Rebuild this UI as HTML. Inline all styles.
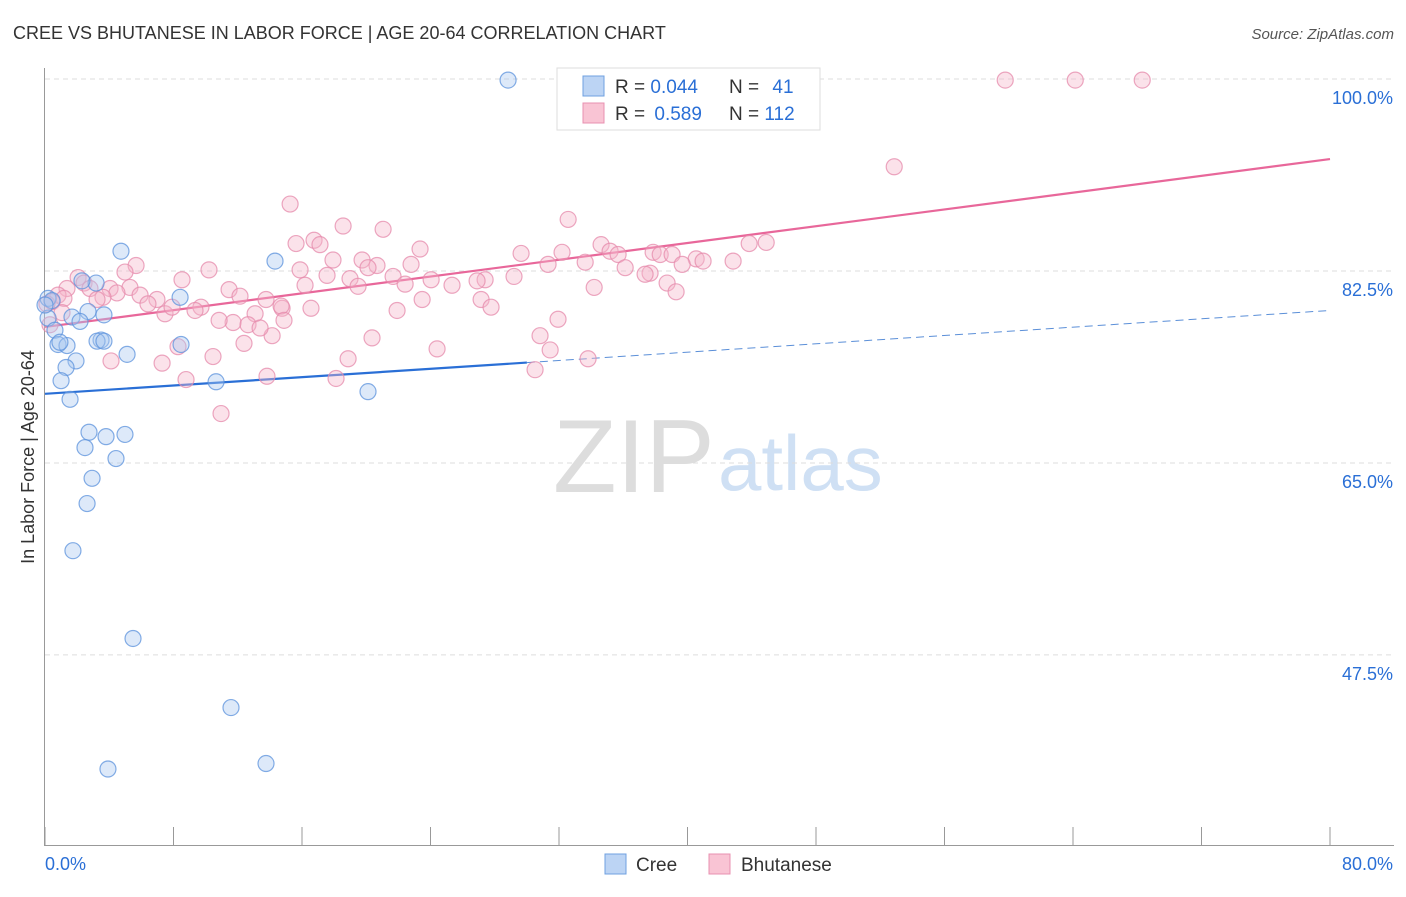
<!DOCTYPE html>
<html><head><meta charset="utf-8"><style>
body{margin:0;background:#fff;font-family:"Liberation Sans",sans-serif}
svg text{font-family:"Liberation Sans",sans-serif}
</style></head><body>
<svg id="chart" width="1406" height="892" viewBox="0 0 1406 892" xmlns="http://www.w3.org/2000/svg">
<text x="13" y="39" font-size="18" fill="#333">CREE VS BHUTANESE IN LABOR FORCE | AGE 20-64 CORRELATION CHART</text>
<text x="1394" y="39" font-size="15" fill="#555" text-anchor="end" font-style="italic">Source: ZipAtlas.com</text>
<g>
<text x="553" y="492" font-size="104" fill="#ddd" font-family="Liberation Serif,serif">ZIP</text>
<text x="718" y="490" font-size="78" fill="#cfe0f4">atlas</text>
</g>
<g id="grid"></g>
<g id="axes"></g>
<g id="trend"></g>
<g id="pts"></g>
<text transform="translate(34,457) rotate(-90)" font-size="18" fill="#333" text-anchor="middle">In Labor Force | Age 20-64</text>
<g>
<rect x="557" y="68" width="263" height="62" fill="#fff" stroke="#ddd"/>
<rect x="583" y="76" width="21" height="20" fill="#bcd4f4" stroke="#6fa0e0"/>
<rect x="583" y="103" width="21" height="20" fill="#f9c4d4" stroke="#e890b0"/>
<text x="615" y="93" font-size="19" fill="#333">R = <tspan fill="#2a6fd6">0.044</tspan></text>
<text x="729" y="93" font-size="19" fill="#333">N = <tspan fill="#2a6fd6" dx="8">41</tspan></text>
<text x="615" y="120" font-size="19" fill="#333">R = <tspan fill="#2a6fd6" dx="4">0.589</tspan></text>
<text x="729" y="120" font-size="19" fill="#333">N = <tspan fill="#2a6fd6">112</tspan></text>
</g>
<g>
<rect x="605" y="854" width="21" height="20" fill="#bcd4f4" stroke="#6fa0e0"/>
<text x="636" y="871" font-size="19" fill="#333">Cree</text>
<rect x="709" y="854" width="21" height="20" fill="#f9c4d4" stroke="#e890b0"/>
<text x="741" y="871" font-size="19" fill="#333">Bhutanese</text>
</g>
</svg>
<script>
const yTicks=[100,82.5,65,47.5];
const yTickLabels=["100.0%","82.5%","65.0%","47.5%"];
const xTicks=[0,8,16,24,32,40,48,56,64,72,80];
const creeX=[28.83,4.73,14.32,3.18,2.30,8.41,0.19,0.44,2.68,1.68,3.67,0.19,2.18,0.62,0.81,1.37,3.49,3.24,3.67,5.11,8.47,1.93,1.31,1.0,10.65,20.11,1.56,2.74,4.98,3.80,2.49,4.42,2.93,2.62,1.74,5.48,11.58,3.92,13.76,0,0.93];
const creeY=[99.9,84.3,83.4,81.4,81.6,80.1,80.0,79.8,78.8,78.3,78.5,78.2,77.9,77.1,75.8,75.7,76.2,76.1,76.1,74.9,75.8,74.3,73.7,72.5,72.4,71.5,70.8,67.8,67.6,67.4,66.4,65.4,63.6,61.3,57.0,49.0,42.7,37.1,37.6,79.4,76.0];
const bhuX=[59.78,64.14,68.31,52.87,15.26,32.57,18.56,21.05,16.75,15.63,17.12,23.35,34.62,29.64,32.19,35.18,35.68,37.86,38.30,39.04,44.9,43.84,42.84,40.54,39.67,31.32,33.63,36.12,22.79,20.67,19.74,17.93,15.88,20.11,21.67,17.56,18.99,19.49,24.04,25.34,27.40,29.2,26.9,22.42,16.19,14.76,10.21,8.53,5.67,4.98,2.06,2.43,1.37,2.80,4.05,5.29,4.48,3.61,0.81,1.18,0.44,0.12,1.06,0.31,3.24,5.92,6.97,6.41,7.47,7.91,9.71,9.34,11.46,12.14,13.76,14.70,13.08,11.71,10.84,12.64,14.14,14.88,16.56,13.39,12.39,8.28,7.29,8.78,10.46,4.11,10.96,13.82,18.12,18.87,20.36,21.92,23.48,27.15,27.77,30.82,31.94,31.45,33.81,30.51,24.41,34.19,37.67,38.73,39.29,37.36,40.97];
const bhuY=[99.9,99.9,99.9,92.0,88.6,87.2,86.6,86.3,85.3,85.0,84.9,84.5,84.9,84.1,84.2,84.3,84.0,84.2,84.0,84.0,85.1,85.0,83.4,83.6,83.1,83.1,83.3,82.8,83.1,83.0,83.5,83.5,82.6,82.8,82.0,82.1,81.8,81.1,81.7,81.2,81.7,82.0,81.6,81.3,81.2,79.1,82.6,81.7,83.0,82.4,81.9,81.4,80.9,80.9,80.9,81.0,80.5,80.1,80.3,80.0,79.7,79.5,78.7,77.6,79.9,80.3,79.9,79.5,78.6,79.2,79.2,78.9,80.8,80.2,79.9,79.3,78.6,77.8,78.0,77.6,76.6,78.0,79.1,77.3,75.9,75.6,74.1,72.6,74.7,74.3,69.5,72.9,72.7,74.5,76.4,78.9,79.9,79.9,79.2,76.6,78.1,75.3,74.5,73.5,75.4,81.0,82.3,81.4,80.6,82.2,83.4];
const creeTrend=[71.3,78.9];
const bhuTrend=[77.4,92.7];
const NS="http://www.w3.org/2000/svg";
const X=v=>45+v*(1285/80);
const Y=v=>79+(100-v)*10.97;
function mk(tag,at,parent){const e=document.createElementNS(NS,tag);for(const k in at)e.setAttribute(k,at[k]);parent.appendChild(e);return e;}
const grid=document.getElementById('grid'),axes=document.getElementById('axes'),trend=document.getElementById('trend'),pts=document.getElementById('pts');
yTicks.forEach((t,i)=>{
 const l=mk('line',{x1:45,x2:1394,y1:Y(t),y2:Y(t),stroke:'#ddd','stroke-dasharray':'5,4'},grid);
 
 
 const tx=mk('text',{x:1393,y:Y(t)+25,'font-size':18,fill:'#2a6fd6','text-anchor':'end'},axes);
 tx.textContent=yTickLabels[i];
 
 
});
mk('line',{x1:44.5,x2:44.5,y1:68,y2:845,stroke:'#999'},axes);
mk('line',{x1:44,x2:1394,y1:845.5,y2:845.5,stroke:'#999'},axes);
xTicks.forEach(t=>{const l=mk('line',{x1:X(t),x2:X(t),y1:827,y2:845,stroke:'#999'},axes);
 
 });
let a=mk('text',{x:45,y:870,'font-size':18,fill:'#2a6fd6'},axes);a.textContent=xTicks[0].toFixed(1)+'%';


a=mk('text',{x:1393,y:870,'font-size':18,fill:'#2a6fd6','text-anchor':'end'},axes);a.textContent=xTicks[xTicks.length-1].toFixed(1)+'%';


function dot(x,y,f,s,name){const c=mk('circle',{cx:X(x),cy:Y(y),r:8,fill:f,'fill-opacity':0.4,stroke:s,'stroke-width':1.2,'stroke-opacity':0.75},pts);
 
 }
bhuX.forEach((x,i)=>dot(x,bhuY[i],'#f6b6ca','#e58aab','bhutanese-point'));
creeX.forEach((x,i)=>dot(x,creeY[i],'#a9c7f0','#5b92dc','cree-point'));
const cy=x=>creeTrend[0]+(creeTrend[1]-creeTrend[0])*x/80;
let t=mk('line',{x1:X(0),y1:Y(bhuTrend[0]),x2:X(80),y2:Y(bhuTrend[1]),stroke:'#e8679a','stroke-width':2.2},trend);


t=mk('line',{x1:X(0),y1:Y(cy(0)),x2:X(30),y2:Y(cy(30)),stroke:'#2a6fd6','stroke-width':2.2},trend);


t=mk('line',{x1:X(30),y1:Y(cy(30)),x2:X(80),y2:Y(cy(80)),stroke:'#5b8fd8','stroke-width':1,'stroke-dasharray':'8,5'},trend);


</script>
</body></html>
